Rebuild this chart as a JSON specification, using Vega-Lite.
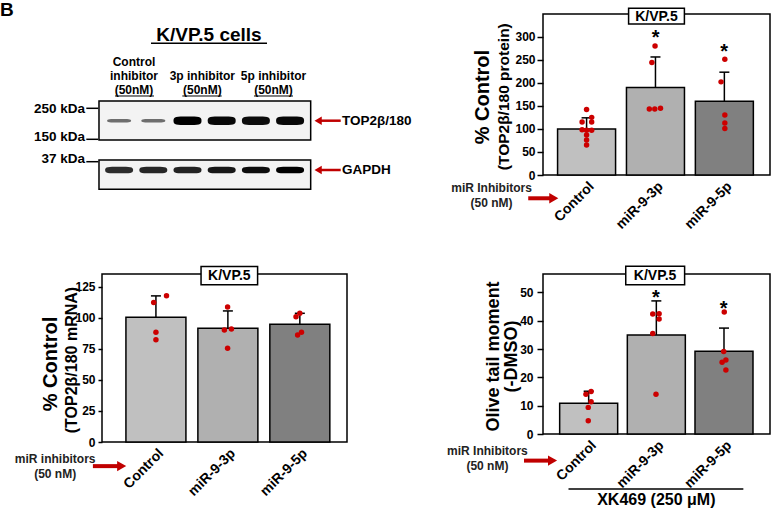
{
  "$schema": "https://vega.github.io/schema/vega-lite/v6.json",
  "padding": 0,
  "background": "white",
  "bounds": "flush",
  "columns": 2,
  "spacing": {"row": 92, "column": 196},
  "datasets": {
    "bands": [
      {"lane": 1, "blot": "TOP2β/180", "signal": 0.55},
      {"lane": 2, "blot": "TOP2β/180", "signal": 0.55},
      {"lane": 3, "blot": "TOP2β/180", "signal": 1.0},
      {"lane": 4, "blot": "TOP2β/180", "signal": 0.97},
      {"lane": 5, "blot": "TOP2β/180", "signal": 0.95},
      {"lane": 6, "blot": "TOP2β/180", "signal": 0.97},
      {"lane": 1, "blot": "GAPDH", "signal": 0.82},
      {"lane": 2, "blot": "GAPDH", "signal": 0.84},
      {"lane": 3, "blot": "GAPDH", "signal": 0.86},
      {"lane": 4, "blot": "GAPDH", "signal": 0.9},
      {"lane": 5, "blot": "GAPDH", "signal": 0.95},
      {"lane": 6, "blot": "GAPDH", "signal": 1.0}
    ],
    "protB": [
      {"cond": "Control", "x": 1, "v": 100, "upper": 124},
      {"cond": "miR-9-3p", "x": 2, "v": 190, "upper": 256},
      {"cond": "miR-9-5p", "x": 3, "v": 160, "upper": 223}
    ],
    "dotsB": [
      {"cond": "Control", "x": 1.0, "v": 142},
      {"cond": "Control", "x": 1.074, "v": 125},
      {"cond": "Control", "x": 0.935, "v": 115},
      {"cond": "Control", "x": 1.074, "v": 115},
      {"cond": "Control", "x": 0.935, "v": 98},
      {"cond": "Control", "x": 1.0, "v": 97},
      {"cond": "Control", "x": 1.074, "v": 97},
      {"cond": "Control", "x": 1.0, "v": 87},
      {"cond": "Control", "x": 1.0, "v": 76},
      {"cond": "Control", "x": 1.0, "v": 65},
      {"cond": "miR-9-3p", "x": 1.994, "v": 280},
      {"cond": "miR-9-3p", "x": 1.948, "v": 244},
      {"cond": "miR-9-3p", "x": 1.911, "v": 143},
      {"cond": "miR-9-3p", "x": 1.99, "v": 143},
      {"cond": "miR-9-3p", "x": 2.073, "v": 145},
      {"cond": "miR-9-5p", "x": 3.007, "v": 251},
      {"cond": "miR-9-5p", "x": 2.952, "v": 202},
      {"cond": "miR-9-5p", "x": 3.007, "v": 130},
      {"cond": "miR-9-5p", "x": 3.007, "v": 113},
      {"cond": "miR-9-5p", "x": 3.007, "v": 101}
    ],
    "mrnaC": [
      {"cond": "Control", "x": 1, "v": 100.3, "upper": 117.5},
      {"cond": "miR-9-3p", "x": 2, "v": 91.4, "upper": 105.4},
      {"cond": "miR-9-5p", "x": 3, "v": 94.6, "upper": 103.5}
    ],
    "dotsC": [
      {"cond": "Control", "x": 0.969, "v": 112.1},
      {"cond": "Control", "x": 1.147, "v": 117.7},
      {"cond": "Control", "x": 1.0, "v": 88.2},
      {"cond": "Control", "x": 1.0, "v": 82.3},
      {"cond": "miR-9-3p", "x": 1.996, "v": 108.6},
      {"cond": "miR-9-3p", "x": 1.951, "v": 90.1},
      {"cond": "miR-9-3p", "x": 2.049, "v": 90.9},
      {"cond": "miR-9-3p", "x": 1.996, "v": 75.3},
      {"cond": "miR-9-5p", "x": 2.947, "v": 100.8},
      {"cond": "miR-9-5p", "x": 3.0, "v": 103.5},
      {"cond": "miR-9-5p", "x": 2.969, "v": 86.0},
      {"cond": "miR-9-5p", "x": 3.023, "v": 88.2}
    ],
    "cometD": [
      {"cond": "Control", "x": 1, "v": 10.9, "upper": 15.1},
      {"cond": "miR-9-3p", "x": 2, "v": 35.0, "upper": 47.0},
      {"cond": "miR-9-5p", "x": 3, "v": 29.2, "upper": 37.4}
    ],
    "dotsD": [
      {"cond": "Control", "x": 0.96, "v": 14.0},
      {"cond": "Control", "x": 1.036, "v": 15.0},
      {"cond": "Control", "x": 1.036, "v": 11.4},
      {"cond": "Control", "x": 0.994, "v": 9.4},
      {"cond": "Control", "x": 0.994, "v": 4.7},
      {"cond": "miR-9-3p", "x": 1.947, "v": 42.4},
      {"cond": "miR-9-3p", "x": 2.041, "v": 42.5},
      {"cond": "miR-9-3p", "x": 2.041, "v": 40.6},
      {"cond": "miR-9-3p", "x": 1.947, "v": 35.5},
      {"cond": "miR-9-3p", "x": 1.995, "v": 14.0},
      {"cond": "miR-9-5p", "x": 3.004, "v": 43.1},
      {"cond": "miR-9-5p", "x": 2.996, "v": 29.1},
      {"cond": "miR-9-5p", "x": 2.972, "v": 25.3},
      {"cond": "miR-9-5p", "x": 3.028, "v": 26.1},
      {"cond": "miR-9-5p", "x": 3.028, "v": 22.6}
    ]
  },
  "concat": [
    {
      "width": 245,
      "height": 168,
      "view": {"stroke": null},
      "layer": [
        {"data": {"values": [{}]}, "mark": {"type": "text", "fontSize": 19, "align": "left", "baseline": "top"},
         "encoding": {"x": {"datum": -2.48, "scale": {"domain": [0.5, 7.664], "nice": false, "zero": false}, "axis": null}, "y": {"datum": -0.93, "scale": {"domain": [0, 12], "reverse": true, "nice": false, "zero": false}, "axis": null}, "text": {"value": "B"}}},
        {"data": {"values": [{}]}, "mark": {"type": "text", "fontSize": 19, "align": "center", "baseline": "alphabetic"},
         "encoding": {"x": {"datum": 3.629, "axis": null}, "y": {"datum": 1.907, "axis": null}, "text": {"value": "K/VP.5 cells"}}},
        {"data": {"values": [{}]}, "mark": {"type": "rule", "color": "black", "strokeWidth": 1.5},
         "encoding": {"x": {"datum": 1.933, "axis": null}, "x2": {"datum": 5.325}, "y": {"datum": 2.093, "axis": null}}},
        {"data": {"values": [{}]}, "mark": {"type": "text", "fontSize": 12, "align": "center", "baseline": "alphabetic", "lineHeight": 14},
         "encoding": {"x": {"datum": 1.436, "axis": null}, "y": {"datum": 3.714, "axis": null}, "text": {"value": ["Control", "inhibitor", "(50nM)"]}}},
        {"data": {"values": [{}]}, "mark": {"type": "text", "fontSize": 12, "align": "center", "baseline": "alphabetic", "lineHeight": 14},
         "encoding": {"x": {"datum": 3.433, "axis": null}, "y": {"datum": 4.714, "axis": null}, "text": {"value": ["3p inhibitor", "(50nM)"]}}},
        {"data": {"values": [{}]}, "mark": {"type": "text", "fontSize": 12, "align": "center", "baseline": "alphabetic", "lineHeight": 14},
         "encoding": {"x": {"datum": 5.515, "axis": null}, "y": {"datum": 4.714, "axis": null}, "text": {"value": ["5p inhibitor", "(50nM)"]}}},
        {"data": {"values": [{}]}, "mark": {"type": "rule", "color": "black", "strokeWidth": 1},
         "encoding": {"x": {"datum": 0.88, "axis": null}, "x2": {"datum": 2.02}, "y": {"datum": 5.857, "axis": null}}},
        {"data": {"values": [{}]}, "mark": {"type": "rule", "color": "black", "strokeWidth": 1},
         "encoding": {"x": {"datum": 2.848, "axis": null}, "x2": {"datum": 4.0}, "y": {"datum": 5.857, "axis": null}}},
        {"data": {"values": [{}]}, "mark": {"type": "rule", "color": "black", "strokeWidth": 1},
         "encoding": {"x": {"datum": 4.944, "axis": null}, "x2": {"datum": 6.085}, "y": {"datum": 5.857, "axis": null}}},
        {"data": {"values": [{}]}, "mark": {"type": "text", "fontSize": 13.5, "align": "right", "baseline": "alphabetic"},
         "encoding": {"x": {"datum": 0.003, "axis": null}, "y": {"datum": 7.036, "axis": null}, "text": {"value": "250 kDa"}}},
        {"data": {"values": [{}]}, "mark": {"type": "text", "fontSize": 13.5, "align": "right", "baseline": "alphabetic"},
         "encoding": {"x": {"datum": 0.003, "axis": null}, "y": {"datum": 9.05, "axis": null}, "text": {"value": "150 kDa"}}},
        {"data": {"values": [{}]}, "mark": {"type": "text", "fontSize": 13.5, "align": "right", "baseline": "alphabetic"},
         "encoding": {"x": {"datum": 0.003, "axis": null}, "y": {"datum": 10.62, "axis": null}, "text": {"value": "37 kDa"}}},
        {"data": {"values": [{}]}, "mark": {"type": "rule", "color": "black", "strokeWidth": 1.5},
         "encoding": {"x": {"datum": 0.041, "axis": null}, "x2": {"datum": 0.392}, "y": {"datum": 6.736, "axis": null}}},
        {"data": {"values": [{}]}, "mark": {"type": "rule", "color": "black", "strokeWidth": 1.5},
         "encoding": {"x": {"datum": 0.041, "axis": null}, "x2": {"datum": 0.392}, "y": {"datum": 8.95, "axis": null}}},
        {"data": {"values": [{}]}, "mark": {"type": "rule", "color": "black", "strokeWidth": 1.5},
         "encoding": {"x": {"datum": 0.041, "axis": null}, "x2": {"datum": 0.392}, "y": {"datum": 10.55, "axis": null}}},
        {"data": {"values": [{}]}, "mark": {"type": "rect", "fill": "#f3f3f3", "stroke": "black", "strokeWidth": 1.5},
         "encoding": {"x": {"datum": 0.412, "axis": null}, "x2": {"datum": 6.602}, "y": {"datum": 6.214, "axis": null}, "y2": {"datum": 9.0}}},
        {"data": {"values": [{}]}, "mark": {"type": "rect", "fill": "#f3f3f3", "stroke": "black", "strokeWidth": 1.5},
         "encoding": {"x": {"datum": 0.412, "axis": null}, "x2": {"datum": 6.602}, "y": {"datum": 10.43, "axis": null}, "y2": {"datum": 12.52}}},
        {"data": {"name": "bands"}, "transform": [{"filter": "datum.blot == 'TOP2β/180' && datum.signal < 0.7"}],
         "mark": {"type": "point", "filled": true, "color": "black", "size": 576, "shape": "M-1,0C-1,-0.15 -0.8,-0.15 0,-0.15C0.8,-0.15 1,-0.15 1,0C1,0.15 0.8,0.15 0,0.15C-0.8,0.15 -1,0.15 -1,0Z"},
         "encoding": {"x": {"field": "lane", "type": "quantitative", "axis": null}, "y": {"datum": 7.621, "axis": null}, "opacity": {"field": "signal", "type": "quantitative", "scale": {"domain": [0, 1], "range": [0, 1]}, "legend": null}}},
        {"data": {"name": "bands"}, "transform": [{"filter": "datum.blot == 'TOP2β/180' && datum.signal >= 0.7"}],
         "mark": {"type": "point", "filled": true, "color": "black", "size": 784, "shape": "M-1,0C-1,-0.3 -0.8,-0.3 0,-0.3C0.8,-0.3 1,-0.3 1,0C1,0.3 0.8,0.3 0,0.3C-0.8,0.3 -1,0.3 -1,0Z"},
         "encoding": {"x": {"field": "lane", "type": "quantitative", "axis": null}, "y": {"datum": 7.621, "axis": null}, "opacity": {"field": "signal", "type": "quantitative", "scale": {"domain": [0, 1], "range": [0, 1]}, "legend": null}}},
        {"data": {"name": "bands"}, "transform": [{"filter": "datum.blot == 'GAPDH'"}],
         "mark": {"type": "point", "filled": true, "color": "black", "size": 784, "shape": "M-1,0C-1,-0.24 -0.8,-0.24 0,-0.24C0.8,-0.24 1,-0.24 1,0C1,0.24 0.8,0.24 0,0.24C-0.8,0.24 -1,0.24 -1,0Z"},
         "encoding": {"x": {"field": "lane", "type": "quantitative", "axis": null}, "y": {"datum": 11.143, "axis": null}, "opacity": {"field": "signal", "type": "quantitative", "scale": {"domain": [0, 1], "range": [0, 1]}, "legend": null}}},
        {"data": {"values": [{}]}, "mark": {"type": "rule", "color": "#c00000", "strokeWidth": 2.5},
         "encoding": {"x": {"datum": 6.87, "axis": null}, "x2": {"datum": 7.48}, "y": {"datum": 7.621, "axis": null}}},
        {"data": {"values": [{}]}, "mark": {"type": "point", "shape": "triangle-left", "filled": true, "color": "#c00000", "size": 70, "opacity": 1},
         "encoding": {"x": {"datum": 6.82, "axis": null}, "y": {"datum": 7.621, "axis": null}}},
        {"data": {"values": [{}]}, "mark": {"type": "rule", "color": "#c00000", "strokeWidth": 2.5},
         "encoding": {"x": {"datum": 6.87, "axis": null}, "x2": {"datum": 7.48}, "y": {"datum": 11.143, "axis": null}}},
        {"data": {"values": [{}]}, "mark": {"type": "point", "shape": "triangle-left", "filled": true, "color": "#c00000", "size": 70, "opacity": 1},
         "encoding": {"x": {"datum": 6.82, "axis": null}, "y": {"datum": 11.143, "axis": null}}},
        {"data": {"values": [{}]}, "mark": {"type": "text", "fontSize": 13.5, "align": "left", "baseline": "middle"},
         "encoding": {"x": {"datum": 7.517, "axis": null}, "y": {"datum": 7.621, "axis": null}, "text": {"value": "TOP2β/180"}}},
        {"data": {"values": [{}]}, "mark": {"type": "text", "fontSize": 13.5, "align": "left", "baseline": "middle"},
         "encoding": {"x": {"datum": 7.517, "axis": null}, "y": {"datum": 11.143, "axis": null}, "text": {"value": "GAPDH"}}}
      ]
    },
    {
      "width": 227,
      "height": 161,
      "resolve": {"axis": {"x": "independent", "y": "independent"}},
      "layer": [
        {
          "encoding": {
            "x": {"field": "x", "type": "quantitative", "scale": {"domain": [0.44, 3.59], "nice": false, "zero": false},
                  "axis": {"values": [1, 2, 3], "labelExpr": "datum.value == 1 ? 'Control' : datum.value == 2 ? 'miR-9-3p' : 'miR-9-5p'", "labelAngle": -45, "labelFontSize": 14, "ticks": false, "title": null, "labelPadding": 4}},
            "y": {"field": "v", "type": "quantitative", "scale": {"domain": [0, 349.2], "nice": false, "zero": false},
                  "axis": {"values": [0, 50, 100, 150, 200, 250, 300], "title": null, "tickSize": 6, "labelPadding": 2, "labelFontSize": 12}}
          },
          "layer": [
            {"data": {"name": "protB"}, "mark": {"type": "bar", "width": 58, "stroke": "black", "strokeWidth": 1.5},
             "encoding": {"color": {"field": "cond", "type": "nominal", "scale": {"domain": ["Control", "miR-9-3p", "miR-9-5p"], "range": ["#c0c0c0", "#b0b0b0", "#808080"]}, "legend": null}}},
            {"data": {"name": "protB"}, "mark": {"type": "rule", "color": "black", "strokeWidth": 1.5},
             "encoding": {"y2": {"field": "upper"}}},
            {"data": {"name": "protB"}, "mark": {"type": "point", "shape": "M-1,0L1,0", "filled": false, "stroke": "black", "strokeWidth": 1.5, "size": 100, "opacity": 1},
             "encoding": {"y": {"field": "upper", "type": "quantitative"}}},
            {"data": {"name": "dotsB"}, "mark": {"type": "circle", "color": "#cc0000", "size": 30, "opacity": 1}}
          ]
        },
        {
          "layer": [
            {"data": {"values": [{}]}, "mark": {"type": "text", "fontSize": 20, "align": "center", "baseline": "alphabetic"},
             "encoding": {"x": {"datum": 2.004, "axis": null}, "y": {"datum": 283.5, "axis": null}, "text": {"value": "*"}}},
            {"data": {"values": [{}]}, "mark": {"type": "text", "fontSize": 20, "align": "center", "baseline": "alphabetic"},
             "encoding": {"x": {"datum": 2.998, "axis": null}, "y": {"datum": 254.4, "axis": null}, "text": {"value": "*"}}},
            {"data": {"values": [{}]}, "mark": {"type": "rect", "fill": "white", "stroke": "black", "strokeWidth": 1.5},
             "encoding": {"x": {"datum": 1.61, "axis": null}, "x2": {"datum": 2.42}, "y": {"datum": 361.5, "axis": null}, "y2": {"datum": 327.5}}},
            {"data": {"values": [{}]}, "mark": {"type": "text", "fontSize": 14, "align": "center", "baseline": "alphabetic"},
             "encoding": {"x": {"datum": 2.015, "axis": null}, "y": {"datum": 334.6, "axis": null}, "text": {"value": "K/VP.5"}}},
            {"data": {"values": [{}]}, "mark": {"type": "text", "fontSize": 20, "angle": 270, "align": "center", "baseline": "alphabetic"},
             "encoding": {"x": {"datum": -0.42, "axis": null}, "y": {"datum": 169, "axis": null}, "text": {"value": "% Control"}}},
            {"data": {"values": [{}]}, "mark": {"type": "text", "fontSize": 15.5, "angle": 270, "align": "center", "baseline": "alphabetic"},
             "encoding": {"x": {"datum": -0.12, "axis": null}, "y": {"datum": 169.8, "axis": null}, "text": {"value": "(TOP2β/180 protein)"}}},
            {"data": {"values": [{}]}, "mark": {"type": "text", "fontSize": 12, "align": "center", "baseline": "middle", "lineHeight": 15, "color": "#222222"},
             "encoding": {"x": {"datum": -0.379, "axis": null}, "y": {"datum": -28.8, "axis": null}, "text": {"value": ["miR Inhibitors", "(50 nM)"]}}},
            {"data": {"values": [{}]}, "mark": {"type": "rule", "color": "#c00000", "strokeWidth": 4},
             "encoding": {"x": {"datum": 0.153, "axis": null}, "x2": {"datum": 0.49}, "y": {"datum": -50.5, "axis": null}}},
            {"data": {"values": [{}]}, "mark": {"type": "point", "shape": "triangle-right", "filled": true, "color": "#c00000", "size": 110, "opacity": 1},
             "encoding": {"x": {"datum": 0.524, "axis": null}, "y": {"datum": -50.5, "axis": null}}}
          ]
        }
      ]
    },
    {
      "width": 245,
      "height": 168,
      "resolve": {"axis": {"x": "independent", "y": "independent"}},
      "layer": [
        {
          "encoding": {
            "x": {"field": "x", "type": "quantitative", "scale": {"domain": [0.32, 3.586], "nice": false, "zero": false},
                  "axis": {"values": [1, 2, 3], "labelExpr": "datum.value == 1 ? 'Control' : datum.value == 2 ? 'miR-9-3p' : 'miR-9-5p'", "labelAngle": -45, "labelFontSize": 14, "ticks": false, "title": null, "labelPadding": 4}},
            "y": {"field": "v", "type": "quantitative", "scale": {"domain": [0, 135.1], "nice": false, "zero": false},
                  "axis": {"values": [0, 25, 50, 75, 100, 125], "title": null, "tickSize": 4, "labelPadding": 3, "labelFontSize": 12}}
          },
          "layer": [
            {"data": {"name": "mrnaC"}, "mark": {"type": "bar", "width": 60, "stroke": "black", "strokeWidth": 1.5},
             "encoding": {"color": {"field": "cond", "type": "nominal", "scale": {"domain": ["Control", "miR-9-3p", "miR-9-5p"], "range": ["#c0c0c0", "#b0b0b0", "#808080"]}, "legend": null}}},
            {"data": {"name": "mrnaC"}, "mark": {"type": "rule", "color": "black", "strokeWidth": 1.5},
             "encoding": {"y2": {"field": "upper"}}},
            {"data": {"name": "mrnaC"}, "mark": {"type": "point", "shape": "M-1,0L1,0", "filled": false, "stroke": "black", "strokeWidth": 1.5, "size": 100, "opacity": 1},
             "encoding": {"y": {"field": "upper", "type": "quantitative"}}},
            {"data": {"name": "dotsC"}, "mark": {"type": "circle", "color": "#cc0000", "size": 30, "opacity": 1}}
          ]
        },
        {
          "layer": [
            {"data": {"values": [{}]}, "mark": {"type": "rect", "fill": "white", "stroke": "black", "strokeWidth": 1.5},
             "encoding": {"x": {"datum": 1.627, "axis": null}, "x2": {"datum": 2.413}, "y": {"datum": 141.1, "axis": null}, "y2": {"datum": 126.4}}},
            {"data": {"values": [{}]}, "mark": {"type": "text", "fontSize": 14, "align": "center", "baseline": "alphabetic"},
             "encoding": {"x": {"datum": 2.02, "axis": null}, "y": {"datum": 130.4, "axis": null}, "text": {"value": "K/VP.5"}}},
            {"data": {"values": [{}]}, "mark": {"type": "text", "fontSize": 20, "angle": 270, "align": "center", "baseline": "alphabetic"},
             "encoding": {"x": {"datum": -0.377, "axis": null}, "y": {"datum": 62.7, "axis": null}, "text": {"value": "% Control"}}},
            {"data": {"values": [{}]}, "mark": {"type": "text", "fontSize": 16, "angle": 270, "align": "center", "baseline": "alphabetic"},
             "encoding": {"x": {"datum": -0.093, "axis": null}, "y": {"datum": 65.9, "axis": null}, "text": {"value": "(TOP2β/180 mRNA)"}}},
            {"data": {"values": [{}]}, "mark": {"type": "text", "fontSize": 12, "align": "center", "baseline": "middle", "lineHeight": 15, "color": "#222222"},
             "encoding": {"x": {"datum": -0.4, "axis": null}, "y": {"datum": -13.4, "axis": null}, "text": {"value": ["miR inhibitors", "(50 nM)"]}}},
            {"data": {"values": [{}]}, "mark": {"type": "rule", "color": "#c00000", "strokeWidth": 4},
             "encoding": {"x": {"datum": 0.124, "axis": null}, "x2": {"datum": 0.484}, "y": {"datum": -19.4, "axis": null}}},
            {"data": {"values": [{}]}, "mark": {"type": "point", "shape": "triangle-right", "filled": true, "color": "#c00000", "size": 110, "opacity": 1},
             "encoding": {"x": {"datum": 0.524, "axis": null}, "y": {"datum": -19.4, "axis": null}}}
          ]
        }
      ]
    },
    {
      "width": 227,
      "height": 160,
      "resolve": {"axis": {"x": "independent", "y": "independent"}},
      "layer": [
        {
          "encoding": {
            "x": {"field": "x", "type": "quantitative", "scale": {"domain": [0.399, 3.606], "nice": false, "zero": false},
                  "axis": {"values": [1, 2, 3], "labelExpr": "datum.value == 1 ? 'Control' : datum.value == 2 ? 'miR-9-3p' : 'miR-9-5p'", "labelAngle": -45, "labelFontSize": 14, "ticks": false, "title": null, "labelPadding": 4}},
            "y": {"field": "v", "type": "quantitative", "scale": {"domain": [0, 56.5], "nice": false, "zero": false},
                  "axis": {"values": [0, 10, 20, 30, 40, 50], "title": null, "tickSize": 6, "labelPadding": 4, "labelFontSize": 12}}
          },
          "layer": [
            {"data": {"name": "cometD"}, "mark": {"type": "bar", "width": 58, "stroke": "black", "strokeWidth": 1.5},
             "encoding": {"color": {"field": "cond", "type": "nominal", "scale": {"domain": ["Control", "miR-9-3p", "miR-9-5p"], "range": ["#c0c0c0", "#b0b0b0", "#808080"]}, "legend": null}}},
            {"data": {"name": "cometD"}, "mark": {"type": "rule", "color": "black", "strokeWidth": 1.5},
             "encoding": {"y2": {"field": "upper"}}},
            {"data": {"name": "cometD"}, "mark": {"type": "point", "shape": "M-1,0L1,0", "filled": false, "stroke": "black", "strokeWidth": 1.5, "size": 100, "opacity": 1},
             "encoding": {"y": {"field": "upper", "type": "quantitative"}}},
            {"data": {"name": "dotsD"}, "mark": {"type": "circle", "color": "#cc0000", "size": 30, "opacity": 1}}
          ]
        },
        {
          "layer": [
            {"data": {"values": [{}]}, "mark": {"type": "text", "fontSize": 20, "align": "center", "baseline": "alphabetic"},
             "encoding": {"x": {"datum": 1.995, "axis": null}, "y": {"datum": 45.9, "axis": null}, "text": {"value": "*"}}},
            {"data": {"values": [{}]}, "mark": {"type": "text", "fontSize": 20, "align": "center", "baseline": "alphabetic"},
             "encoding": {"x": {"datum": 2.996, "axis": null}, "y": {"datum": 42.0, "axis": null}, "text": {"value": "*"}}},
            {"data": {"values": [{}]}, "mark": {"type": "rect", "fill": "white", "stroke": "black", "strokeWidth": 1.5},
             "encoding": {"x": {"datum": 1.548, "axis": null}, "x2": {"datum": 2.418}, "y": {"datum": 59.2, "axis": null}, "y2": {"datum": 52.7}}},
            {"data": {"values": [{}]}, "mark": {"type": "text", "fontSize": 14, "align": "center", "baseline": "alphabetic"},
             "encoding": {"x": {"datum": 1.982, "axis": null}, "y": {"datum": 54.5, "axis": null}, "text": {"value": "K/VP.5"}}},
            {"data": {"values": [{}]}, "mark": {"type": "text", "fontSize": 18, "angle": 270, "align": "center", "baseline": "alphabetic"},
             "encoding": {"x": {"datum": -0.331, "axis": null}, "y": {"datum": 27.4, "axis": null}, "text": {"value": "Olive tail moment"}}},
            {"data": {"values": [{}]}, "mark": {"type": "text", "fontSize": 18, "angle": 270, "align": "center", "baseline": "alphabetic"},
             "encoding": {"x": {"datum": -0.059, "axis": null}, "y": {"datum": 27.4, "axis": null}, "text": {"value": "(-DMSO)"}}},
            {"data": {"values": [{}]}, "mark": {"type": "text", "fontSize": 12, "align": "center", "baseline": "middle", "lineHeight": 15, "color": "#222222"},
             "encoding": {"x": {"datum": -0.496, "axis": null}, "y": {"datum": -6.14, "axis": null}, "text": {"value": ["miR Inhibitors", "(50 nM)"]}}},
            {"data": {"values": [{}]}, "mark": {"type": "rule", "color": "#c00000", "strokeWidth": 4},
             "encoding": {"x": {"datum": 0.044, "axis": null}, "x2": {"datum": 0.424}, "y": {"datum": -9.4, "axis": null}}},
            {"data": {"values": [{}]}, "mark": {"type": "point", "shape": "triangle-right", "filled": true, "color": "#c00000", "size": 110, "opacity": 1},
             "encoding": {"x": {"datum": 0.466, "axis": null}, "y": {"datum": -9.4, "axis": null}}},
            {"data": {"values": [{}]}, "mark": {"type": "rule", "color": "black", "strokeWidth": 1.5},
             "encoding": {"x": {"datum": 0.702, "axis": null}, "x2": {"datum": 3.286}, "y": {"datum": -19.4, "axis": null}}},
            {"data": {"values": [{}]}, "mark": {"type": "text", "fontSize": 16, "align": "center", "baseline": "alphabetic"},
             "encoding": {"x": {"datum": 2.0, "axis": null}, "y": {"datum": -25.0, "axis": null}, "text": {"value": "XK469 (250 μM)"}}}
          ]
        }
      ]
    }
  ],
  "config": {
    "font": "Liberation Sans",
    "view": {"stroke": "black", "strokeWidth": 1.5},
    "axis": {"labelFont": "Liberation Sans", "labelFontWeight": "bold", "labelColor": "black", "tickColor": "black", "tickWidth": 1.5, "domain": false, "grid": false, "labelOverlap": false, "labelFlush": false},
    "text": {"font": "Liberation Sans", "fontWeight": "bold", "color": "black"}
  }
}
